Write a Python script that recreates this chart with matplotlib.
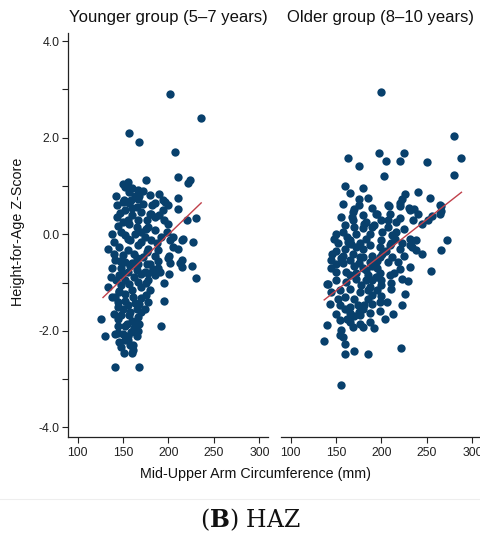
import matplotlib
matplotlib.use('Agg')
import matplotlib.pyplot as plt
import numpy as np

# Younger group (5-7 years): MUAC (mm), HAZ
young_muac = [
    202, 236, 157, 168, 207, 210, 224, 221, 175, 155, 152, 167, 180, 190, 210,
    151, 166, 194, 200, 210, 152, 180, 220, 230, 145, 134, 215, 227, 205, 211,
    201, 202, 226, 213, 230, 195, 192, 126, 130, 141, 168, 151, 161, 141, 145,
    165, 134, 195, 201,
    157, 168, 150, 159, 185, 196, 165, 170, 181, 194, 157, 167, 178, 185, 200,
    152, 163, 174, 181, 192, 202, 216, 146, 156, 167, 176, 189, 141, 152, 167,
    180, 189, 200, 215,
    137, 146, 156, 165, 174, 183, 191, 215, 148, 157, 167, 178, 141, 152, 161,
    170, 145, 156, 165, 174, 148, 157, 167, 154, 163, 150, 159, 146, 156, 148,
    161,
    143, 160, 172, 148, 158, 170, 162, 150, 172, 158, 148, 176, 162, 152, 170,
    160, 146, 175, 163, 152, 158, 170, 145, 162, 155, 140, 185, 180, 138, 143,
    160, 176, 195, 187, 185, 170, 138, 150, 160, 178,
    142, 147, 155, 165, 175, 140, 147, 155, 165, 185, 142, 150, 160, 170, 178,
    144, 150, 168, 178, 140, 152, 160, 168, 145, 152, 158, 166, 163, 172, 182,
    157, 190, 198, 205, 188, 175, 160, 146, 138, 150,
]
young_haz = [
    2.90, 2.40, 2.10, 1.91, 1.71, 1.19, 1.13, 1.06, 1.13, 1.08, 0.97, 0.91, 0.81, 0.84, 0.76,
    0.70, 0.73, 0.72, 0.60, 0.52, 0.50, 0.41, 0.30, 0.34, 0.17, -0.30, -0.11, -0.15, -0.26, -0.30,
    -0.44, -0.59, -0.65, -0.59, -0.90, -1.38, -1.90, -1.75, -2.11, -2.74, -2.76, -2.45, -2.40, -2.07, -1.91,
    -2.11, -1.10, -1.01, -0.83,
    0.88, 0.79, 0.67, 0.70, 0.64, 0.67, 0.57, 0.46, 0.43, 0.50, 0.22, 0.29, 0.15, 0.08, 0.22,
    -0.02, 0.01, -0.06, -0.12, -0.06, -0.12, -0.09, -0.26, -0.33, -0.23, -0.37, -0.33, -0.54, -0.57, -0.61,
    -0.61, -0.55, -0.50, -0.54,
    -0.89, -0.85, -0.78, -0.75, -0.78, -0.71, -0.78, -0.68, -1.06, -1.02, -0.99, -0.95, -1.30, -1.23, -1.30,
    -1.33, -1.51, -1.47, -1.54, -1.54, -1.68, -1.68, -1.71, -1.85, -1.85, -2.06, -2.03, -2.23, -2.20, -2.34,
    -2.30,
    0.35, 0.40, 0.62, 0.05, -0.12, -0.15, -0.40, -0.42, -0.48, -0.65, -0.70, -0.62, -0.88, -0.95, -1.10,
    -1.15, -1.18, -1.25, -1.42, -1.38, -1.60, -1.62, -1.75, -1.95, -2.10, -0.40, -0.85, -1.15, -0.70, 0.60,
    0.55, 0.30, 0.30, -0.18, 0.35, 0.05, 0.00, 0.25, 0.95, -0.30,
    0.80, 0.45, 0.30, 0.15, 0.10, -0.15, -0.55, -0.10, -0.50, -0.45, -0.95, -0.80, -0.60, -0.82, -0.80,
    -1.40, -1.55, -1.45, -1.40, -1.65, -1.90, -1.80, -1.85, -2.05, -2.20, -2.30, -2.00, 0.80, 0.90, 0.60,
    0.65, 0.40, 0.05, -0.05, -0.70, -1.00, -2.45, -1.20, -1.30, 1.05,
]

# Older group (8-10 years): MUAC (mm), HAZ
old_muac = [
    200, 280, 288, 163, 175, 197, 205, 225, 220, 250, 203, 280, 240, 226, 223,
    253, 175, 185, 158, 170, 168, 208, 220, 230, 236, 265, 266, 240, 256, 245,
    195, 220, 181, 190, 207, 216, 158, 172, 183, 152, 163, 172, 187, 200, 211,
    223, 234, 272, 266, 245, 145, 156, 165, 176, 187, 198, 207, 218, 231, 255,
    150, 161, 172, 183, 198, 209,
    220, 141, 150, 161, 172, 183, 194, 214, 223, 229, 154, 165, 176, 187, 200,
    211, 190, 200, 226, 143, 154, 165, 174, 181, 206, 223, 165, 176, 187, 198,
    213, 204, 154, 165, 176, 187, 192, 180, 140, 156, 169, 158, 154, 137, 160,
    222, 160, 170, 185, 155, 140,
    175, 207, 220, 264, 169, 194, 209, 231, 169, 183, 192, 207, 216, 251, 264,
    180, 187, 201, 212, 231, 238, 165, 176, 198, 209, 220, 231, 238, 146, 158,
    169, 180, 190, 201, 212,
    160, 170, 180, 190, 160, 170, 185, 195, 178, 167, 195, 180, 150, 162, 190,
    150, 158, 165, 175, 185, 195, 160, 170, 180, 150, 145, 145, 152, 160, 170,
    180, 190, 200, 205, 215, 225, 235, 225, 200, 190, 165, 180, 160, 175, 162,
    150, 185, 198, 210, 148, 155,
]
old_haz = [
    2.95, 2.03, 1.59, 1.57, 1.41, 1.69, 1.52, 1.69, 1.51, 1.50, 1.21, 1.22, 0.88, 0.84, 0.74,
    0.75, 0.74, 0.75, 0.62, 0.53, 0.36, 0.58, 0.58, 0.55, 0.53, 0.59, 0.48, 0.43, 0.37, 0.21,
    0.41, 0.33, 0.22, 0.15, 0.15, 0.05, 0.05, 0.01, -0.09, -0.19, -0.16, -0.26, -0.23, -0.12, -0.19,
    -0.19, -0.26, -0.12, -0.33, -0.40, -0.54, -0.50, -0.54, -0.47, -0.57, -0.47, -0.57, -0.57, -0.68, -0.77,
    -0.78, -0.78, -0.81, -0.75, -0.81, -0.85,
    -0.71, -1.04, -0.95, -0.99, -0.92, -0.95, -0.89, -0.81, -0.92, -0.97, -1.16, -1.13, -1.20, -1.09, -1.06,
    -1.13, -1.26, -1.28, -1.23, -1.44, -1.47, -1.51, -1.47, -1.47, -1.40, -1.46, -1.64, -1.68, -1.64, -1.58,
    -1.66, -1.75, -1.78, -1.82, -1.85, -1.82, -1.94, -1.92, -1.87, -1.99, -1.92, -2.13, -2.09, -2.22, -2.27,
    -2.36, -2.49, -2.42, -2.49, -3.12, -1.02,
    0.60, 0.60, 0.64, 0.60, 0.46, 0.43, 0.43, 0.50, 0.29, 0.26, 0.19, 0.29, 0.26, 0.30, 0.43,
    0.12, 0.01, 0.05, -0.02, -0.09, -0.12, -0.12, -0.19, -0.26, -0.23, -0.30, -0.23, -0.33, -0.40, -0.44,
    -0.40, -0.47, -0.44, -0.40, -0.47,
    -0.30, -0.65, -0.70, -0.65, -1.30, -1.35, -1.35, -1.15, -1.05, -0.20, -0.70, -0.30, -0.62, -0.05, -0.95,
    -0.35, -0.60, -0.85, -0.60, -0.85, -0.55, 0.20, 0.15, 0.40, 0.00, -0.70, -1.20, -1.35, -1.55, -1.70,
    -1.55, -1.45, -0.95, -0.35, -0.10, 0.10, 0.30, -0.45, 0.30, 0.55, 0.85, 0.95, 1.00, -1.60, -1.75,
    -1.65, -1.15, -1.40, -1.00, -0.10, 0.35,
]

# fitted lines (end points)
young_fit_x = [128, 236]
young_fit_y = [-1.31, 0.65]
old_fit_x = [137, 288]
old_fit_y = [-1.36, 0.87]

titles = ['Younger group (5\u20137 years)', 'Older group (8\u201310 years)']
yticks = [-4, -3, -2, -1, 0, 1, 2, 3, 4]
ytick_labels = ['-4.0', '', '-2.0', '', '0.0', '', '2.0', '', '4.0']
xticks = [100, 150, 200, 250, 300]

dot_color = '#08406c'
line_color = '#c0404a'
axis_color = '#222222'

plt.rcParams['font.family'] = ['Liberation Sans', 'DejaVu Sans']

W, H = 481, 536
fig = plt.figure(figsize=(W / 100, H / 100), dpi=100)

ax_l = fig.add_axes([68 / W, (H - 437) / H, 200 / W, 404 / H])
ax_r = fig.add_axes([281 / W, (H - 437) / H, 200 / W, 404 / H])

groups = [
    (ax_l, young_muac, young_haz, young_fit_x, young_fit_y),
    (ax_r, old_muac, old_haz, old_fit_x, old_fit_y),
]
for i, (ax, xs, ys, fx, fy) in enumerate(groups):
    ax.scatter(xs, ys, s=36, color=dot_color, linewidths=0, zorder=2)
    ax.plot(fx, fy, color=line_color, lw=1.0, zorder=3)
    ax.set_xlim(89.5, 309.5)
    ax.set_ylim(-4.2, 4.17)
    ax.set_xticks(xticks)
    ax.set_xticklabels([str(t) for t in xticks])
    for side in ['top', 'right']:
        ax.spines[side].set_visible(False)
    ax.spines['bottom'].set_color(axis_color)
    ax.spines['bottom'].set_linewidth(0.9)
    ax.tick_params(axis='x', direction='out', length=4, width=0.8,
                   colors=axis_color, labelsize=8.8, pad=3)
    ax.set_title(titles[i], fontsize=12, color='#111111', pad=8)
    if i == 0:
        ax.set_yticks(yticks)
        ax.set_yticklabels(ytick_labels)
        ax.spines['left'].set_color(axis_color)
        ax.spines['left'].set_linewidth(0.9)
        ax.tick_params(axis='y', direction='out', length=4, width=0.8,
                       colors=axis_color, labelsize=8.8, pad=2)
    else:
        ax.spines['left'].set_visible(False)
        ax.set_yticks([])

fig.text(256 / W, 1 - 474 / H, 'Mid-Upper Arm Circumference (mm)',
         ha='center', va='center', fontsize=10.3, color='#111111')
fig.text(18 / W, 1 - 232 / H, 'Height-for-Age Z-Score', rotation=90,
         ha='center', va='center', fontsize=10.3, color='#111111')

# separator and caption
fig.add_artist(plt.Line2D([0, 1], [1 - 499 / H, 1 - 499 / H],
                          transform=fig.transFigure, color='#eeeeee', lw=0.8))
plt.rcParams['mathtext.fontset'] = 'dejavuserif'
fig.text(250 / W, 1 - 520 / H, r'($\mathbf{B}$) HAZ', ha='center', va='center',
         fontsize=17, family='DejaVu Serif', color='#111111')

fig.savefig('out.png', dpi=100)
